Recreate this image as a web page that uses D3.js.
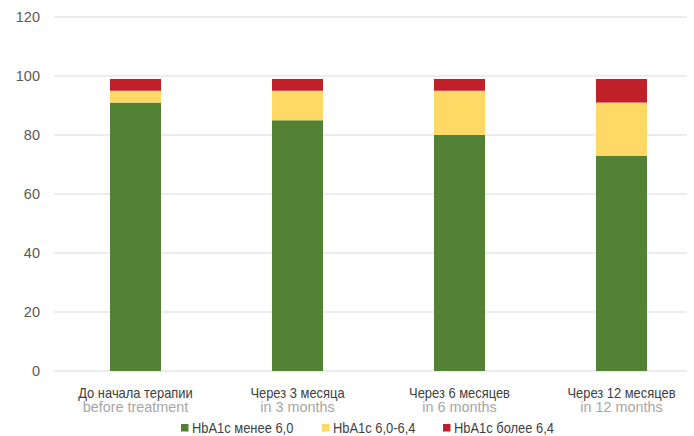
<!DOCTYPE html>
<html><head><meta charset="utf-8">
<script src="https://cdn.jsdelivr.net/npm/d3@7"></script>
<style>body{margin:0;background:#fff}svg{display:block}</style>
</head><body>
<svg id="c" width="694" height="436"></svg>
<script>
const categoriesRu = ["До начала терапии","Через 3 месяца","Через 6 месяцев","Через 12 месяцев"];
const categoriesEn = ["before treatment","in 3 months","in 6 months","in 12 months"];
const seriesNames = ["HbA1c менее 6,0","HbA1c 6,0-6,4","HbA1c более 6,4"];
const lowValues = [91,85,80,73];
const midValues = [4,10,15,18];
const highValues = [4,4,4,8];
const yTicks = [0,20,40,60,80,100,120];
const colors = ["#538135","#FFD966","#C0202A"];

const svg = d3.select("#c");
const sans = "'Liberation Sans',Arial,sans-serif";
const x = d3.scaleBand().domain(categoriesRu).range([54.5,702.5]).paddingInner(0.685).paddingOuter(0.3425);
const y = d3.scaleLinear().domain([0,120]).range([371,17]);

const condense = 0.86;
function squeeze(sel){
  sel.each(function(){
    const L = this.getComputedTextLength();
    d3.select(this).attr("textLength", L*condense).attr("lengthAdjust","spacingAndGlyphs");
  });
}

const g = svg.append("g");
g.selectAll("line.grid").data(yTicks).join("line")
  .attr("x1",54).attr("x2",687).attr("y1",d=>y(d)).attr("y2",d=>y(d))
  .attr("stroke","#d9d9d9").attr("stroke-width",1.2);
const yAxis = d3.axisLeft(y).tickValues(yTicks).tickSize(0).tickPadding(0);
const ya = svg.append("g").attr("transform","translate(40,0)").call(yAxis);
ya.select(".domain").remove();
ya.selectAll("text").attr("font-family",sans).attr("font-size",14.5).attr("fill","#595959");

const data = categoriesRu.map((c,i)=>({cat:c, low:lowValues[i], mid:midValues[i], high:highValues[i]}));
const stack = d3.stack().keys(["low","mid","high"])(data);
svg.append("g").selectAll("g").data(stack).join("g").attr("fill",(d,i)=>colors[i])
  .selectAll("rect").data(d=>d).join("rect")
  .attr("x",d=>x(d.data.cat)).attr("width",x.bandwidth())
  .attr("y",d=>y(d[1])).attr("height",d=>y(d[0])-y(d[1]));

const lab = svg.append("g");
categoriesRu.forEach((c,i)=>{
  const cx = x(c)+x.bandwidth()/2;
  lab.append("text").attr("x",cx).attr("y",397.5).attr("text-anchor","middle")
    .attr("font-family",sans).attr("font-size",15).attr("fill","#404040").text(c).call(squeeze);
  lab.append("text").attr("x",cx).attr("y",412).attr("text-anchor","middle")
    .attr("font-family",sans).attr("font-size",14.4).attr("fill","#a6a6a6").text(categoriesEn[i]);
});

const legX = [181,322,443];
const leg = svg.append("g");
seriesNames.forEach((s,i)=>{
  leg.append("rect").attr("x",legX[i]).attr("y",424).attr("width",7.5).attr("height",7.5).attr("fill",colors[i]);
  leg.append("text").attr("x",legX[i]+11).attr("y",433).attr("font-family",sans)
    .attr("font-size",15).attr("fill","#404040").text(s).call(squeeze);
});
</script>
</body></html>
